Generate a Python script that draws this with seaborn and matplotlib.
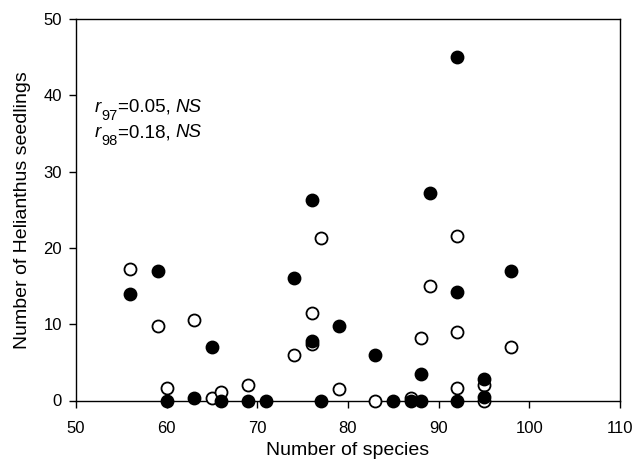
import pandas as pd
import matplotlib
matplotlib.use("Agg")
import matplotlib.pyplot as plt
import seaborn as sns

# filled circles
species_97 = [56, 59, 60, 63, 65, 66, 69, 71, 74, 76, 76, 77, 79, 83, 85, 87, 88, 88, 89, 92, 92, 92, 95, 95, 98]
seedlings_97 = [14, 17, 0, 0.35, 7, 0, 0, 0, 16, 26.3, 7.8, 0, 9.7, 6, 0, 0, 0, 3.5, 27.2, 45, 14.2, 0, 2.8, 0.4, 17]

# open circles
species_98 = [56, 59, 60, 63, 65, 66, 69, 74, 76, 76, 77, 79, 83, 87, 88, 89, 92, 92, 92, 95, 95, 98]
seedlings_98 = [17.25, 9.7, 1.7, 10.5, 0.3, 1.1, 2.05, 6, 11.5, 7.4, 21.3, 1.5, 0, 0.35, 8.2, 15, 21.5, 9, 1.7, 2.0, 0, 7]

x_ticks = [50, 60, 70, 80, 90, 100, 110]
y_ticks = [0, 10, 20, 30, 40, 50]

# annotation lines: (subscript, value)
stats = [("97", "0.05"), ("98", "0.18")]

df97 = pd.DataFrame({"species": species_97, "seedlings": seedlings_97})
df98 = pd.DataFrame({"species": species_98, "seedlings": seedlings_98})

sns.set_theme(style="ticks")
plt.rcParams["font.family"] = ["Liberation Sans", "DejaVu Sans"]
plt.rcParams["text.color"] = "black"

fig = plt.figure(figsize=(6.35, 4.63), dpi=100)
ax = fig.add_axes([76 / 635, 1 - 400.5 / 463, 544 / 635, 381.5 / 463])

sns.scatterplot(
    data=df98, x="species", y="seedlings", ax=ax,
    s=75, facecolor="white", edgecolor="black", linewidth=1.3,
    clip_on=False, zorder=3
    )
sns.scatterplot(
    data=df97, x="species", y="seedlings", ax=ax,
    s=75, color="black", edgecolor="black", linewidth=1.3,
    clip_on=False, zorder=4
    )

ax.set_xlim(50, 110)
ax.set_ylim(0, 50)
ax.set_xticks(x_ticks)
ax.set_yticks(y_ticks)
ax.tick_params(direction="out", length=5, width=1, labelsize=12, color="black", labelcolor="black")
ax.tick_params(axis="x", pad=10)
ax.tick_params(axis="y", pad=5)
for sp in ax.spines.values():
    sp.set_linewidth(1)
    sp.set_color("black")
ax.set_xlabel("Number of species", fontsize=14, color="black", labelpad=4)
ax.set_ylabel("Number of Helianthus seedlings", fontsize=14, color="black", labelpad=9)

# r with subscript, built from chained texts
for i, (sub, val) in enumerate(stats):
    y = 1 - (112 + 25 * i) / 463
    t1 = fig.text(95 / 635, y, "r", style="italic", fontsize=13.5, va="baseline", color="black")
    t2 = ax.annotate(sub, xy=(1, 0), xycoords=t1, xytext=(0, -5),
                     textcoords="offset points", fontsize=10.5, va="bottom", color="black")
    t3 = ax.annotate("=" + val + ", ", xy=(1, 0), xycoords=t2, xytext=(0, 5),
                     textcoords="offset points", fontsize=13.5, va="bottom", color="black")
    ax.annotate("NS", xy=(1, 0), xycoords=t3, xytext=(0, 0),
                textcoords="offset points", fontsize=13.5, style="italic", va="bottom", color="black")

fig.savefig("out.png", dpi=100)
